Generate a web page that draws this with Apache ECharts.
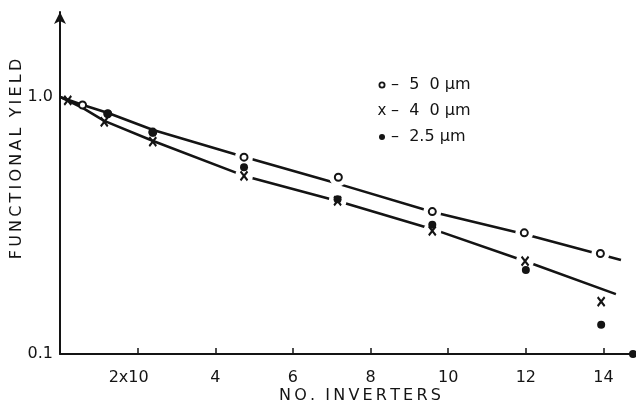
<!DOCTYPE html>
<html>
<head>
<meta charset="utf-8">
<script src="https://cdn.jsdelivr.net/npm/echarts@6.0.0/dist/echarts.min.js"></script>
<style>
  html, body { margin: 0; padding: 0; background: #ffffff; }
  #chart { width: 636px; height: 409px; }
</style>
</head>
<body>
<div id="chart"></div>
<script>
// Axis tick values and their printed labels
const xTickValues = [2, 4, 6, 8, 10, 12, 14];
const xTickLabels = ['2x10', '4', '6', '8', '10', '12', '14'];
const yTickValues = [0.1, 1];
const yTickLabels = ['0.1', '1.0'];

// Measured yield, 50 µm geometry (open circles)
const d50X = [0.58, 1.23, 2.39, 4.74, 7.17, 9.59, 11.96, 13.92];
const d50Y = [0.93, 0.86, 0.73, 0.583, 0.487, 0.358, 0.296, 0.246];

// Measured yield, 40 µm geometry (crosses)
const d40X = [0.2, 1.14, 2.39, 4.74, 7.15, 9.59, 11.98, 13.94];
const d40Y = [0.97, 0.80, 0.67, 0.493, 0.394, 0.301, 0.230, 0.160];

// Measured yield, 2.5 µm geometry (filled dots)
const d25X = [1.23, 2.39, 4.74, 7.15, 9.59, 12.0, 13.94];
const d25Y = [0.86, 0.726, 0.533, 0.40, 0.318, 0.212, 0.130];

// Hand-drawn trend curves
const fitUpperX = [0, 0.59, 1.24, 2.40, 4.75, 7.17, 9.6, 11.95, 14.45];
const fitUpperY = [1.0, 0.931, 0.866, 0.744, 0.584, 0.459, 0.357, 0.293, 0.232];
const fitLowerX = [0, 0.54, 1.14, 2.40, 4.75, 7.15, 9.6, 11.97, 14.32];
const fitLowerY = [1.0, 0.914, 0.807, 0.674, 0.493, 0.394, 0.306, 0.230, 0.171];

const zip = (xs, ys) => xs.map((x, i) => [x, ys[i]]);

const INK = '#141414';
const FONT = 'DejaVu Sans';
const CROSS = 'path://M0,0L10,12M10,0L0,12';
const TS = '\u2009'; // thin space used for the spaced-out lettering

const spaced = s => s.split('').join(TS);

// White discs under the markers so the curves break around them
const haloPoints = zip(d50X, d50Y).filter(p => p[0] > 3)
  .concat(zip(d40X, d40Y).filter(p => p[0] > 3 && p[0] < 13));

const chart = echarts.init(document.getElementById('chart'), null, { renderer: 'canvas' });

chart.setOption({
  backgroundColor: '#ffffff',
  animation: false,
  grid: { left: 60, right: 3, top: 12, bottom: 55 },
  xAxis: {
    type: 'value',
    min: 0,
    max: 14.76,
    interval: 2,
    splitLine: { show: false },
    axisLine: {
      lineStyle: { color: INK, width: 2 },
      symbol: ['none', 'circle'],
      symbolSize: [8, 8]
    },
    axisTick: { inside: true, length: 6, lineStyle: { color: INK, width: 1.5 } },
    axisLabel: {
      color: INK,
      fontFamily: FONT,
      fontSize: 16,
      margin: 16,
      showMaxLabel: false,
      formatter: v => {
        const i = xTickValues.indexOf(Math.round(v));
        if (i < 0 || Math.abs(v - xTickValues[i]) > 1e-6) return '';
        return i === 0 ? '{first|' + xTickLabels[i] + '}' : xTickLabels[i];
      },
      rich: {
        first: { fontFamily: FONT, fontSize: 16, color: INK, padding: [0, 18, 0, 0] }
      }
    }
  },
  yAxis: {
    type: 'log',
    logBase: 10,
    min: 0.1,
    max: 2.14,
    splitLine: { show: false },
    axisLine: {
      lineStyle: { color: INK, width: 2 },
      symbol: ['none', 'arrow'],
      symbolSize: [9, 12]
    },
    axisTick: { show: false },
    axisLabel: {
      color: INK,
      fontFamily: FONT,
      fontSize: 16,
      margin: 7,
      showMaxLabel: false,
      formatter: v => {
        for (let i = 0; i < yTickValues.length; i++) {
          if (Math.abs(v - yTickValues[i]) < 1e-6) return yTickLabels[i];
        }
        return '';
      }
    }
  },
  series: [
    {
      name: 'fit50',
      type: 'line',
      data: zip(fitUpperX, fitUpperY),
      showSymbol: false,
      lineStyle: { color: INK, width: 2.6 },
      zlevel: 0,
      z: 2
    },
    {
      name: 'fit40',
      type: 'line',
      data: zip(fitLowerX, fitLowerY),
      showSymbol: false,
      lineStyle: { color: INK, width: 2.6 },
      zlevel: 0,
      z: 2
    },
    {
      name: 'halo',
      type: 'scatter',
      data: haloPoints,
      symbol: 'circle',
      symbolSize: 18,
      itemStyle: { color: '#ffffff', opacity: 1 },
      emphasis: { disabled: true },
      silent: true,
      zlevel: 1,
      z: 1
    },
    {
      name: '50 µm',
      type: 'scatter',
      data: zip(d50X, d50Y),
      symbol: 'circle',
      symbolSize: 7,
      itemStyle: { color: '#ffffff', borderColor: INK, borderWidth: 2, opacity: 1 },
      zlevel: 1,
      z: 4
    },
    {
      name: '40 µm',
      type: 'scatter',
      data: zip(d40X, d40Y),
      symbol: CROSS,
      symbolSize: [7, 9],
      itemStyle: { color: INK, borderColor: INK, borderWidth: 2.2, opacity: 1 },
      zlevel: 1,
      z: 5
    },
    {
      name: '2.5 µm',
      type: 'scatter',
      data: zip(d25X, d25Y),
      symbol: 'circle',
      symbolSize: 8,
      itemStyle: { color: INK, opacity: 1 },
      zlevel: 1,
      z: 6
    }
  ],
  graphic: [
    // axis titles
    {
      type: 'text',
      x: 17, y: 159,
      rotation: Math.PI / 2,
      style: {
        text: spaced('FUNCTIONAL') + '  ' + spaced('YIELD'),
        font: '16px "' + FONT + '"',
        fill: INK,
        align: 'center',
        verticalAlign: 'middle'
      }
    },
    {
      type: 'text',
      x: 360, y: 396,
      style: {
        text: spaced('NO.') + '  ' + spaced('INVERTERS'),
        font: '16px "' + FONT + '"',
        fill: INK,
        align: 'center',
        verticalAlign: 'middle'
      }
    },
    // key
    {
      type: 'circle',
      shape: { cx: 382, cy: 85, r: 2.6 },
      style: { fill: '#ffffff', stroke: INK, lineWidth: 1.8 }
    },
    {
      type: 'text',
      x: 382, y: 111,
      style: { text: 'x', font: '15px "' + FONT + '"', fill: INK, align: 'center', verticalAlign: 'middle' }
    },
    {
      type: 'circle',
      shape: { cx: 382, cy: 137, r: 3 },
      style: { fill: INK }
    },
    {
      type: 'text',
      x: 391, y: 85,
      style: { text: '–  5  0 µm', font: '16px "' + FONT + '"', fill: INK, verticalAlign: 'middle' }
    },
    {
      type: 'text',
      x: 391, y: 111,
      style: { text: '–  4  0 µm', font: '16px "' + FONT + '"', fill: INK, verticalAlign: 'middle' }
    },
    {
      type: 'text',
      x: 391, y: 137,
      style: { text: '–  2.5 µm', font: '16px "' + FONT + '"', fill: INK, verticalAlign: 'middle' }
    }
  ]
});
</script>
</body>
</html>
